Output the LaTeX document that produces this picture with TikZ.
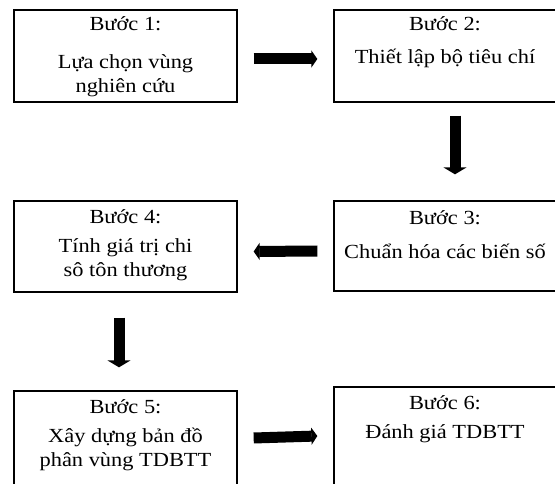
\documentclass[tikz,border=0pt]{standalone}
\usepackage{fontspec}
\setmainfont{Liberation Serif}[FakeStretch=1.12]
\usetikzlibrary{arrows.meta}
\begin{document}
\begin{tikzpicture}[x=1pt,y=-1pt,
  stepbox/.style={draw=black, line width=1.3pt, inner sep=0pt},
  steptext/.style={anchor=north, align=center, inner sep=0pt,
    font=\fontsize{20}{24}\selectfont},
  harrow/.style={line width=11pt, -{Triangle[length=6pt,width=17pt]}},
  varrow/.style={line width=11pt, -{Triangle[length=7pt,width=23pt]}}]
\useasboundingbox (0,0) rectangle (555,484);

% boxes: left column and right column
\node[stepbox, minimum width=223pt, minimum height=92pt]  (b1) at (125.5,56) {};
\node[stepbox, minimum width=246pt, minimum height=92pt]  (b2) at (457,56) {};
\node[stepbox, minimum width=246pt, minimum height=90pt]  (b3) at (457,246) {};
\node[stepbox, minimum width=223pt, minimum height=91pt]  (b4) at (125.5,246.5) {};
\node[stepbox, minimum width=223pt, minimum height=109pt] (b5) at (125.5,445.5) {};
\node[stepbox, minimum width=246pt, minimum height=113pt] (b6) at (457,443.5) {};

% step texts
\node[steptext] (t1) at ([yshift=-7pt]b1.north -| 125.5,0) {Bước 1:\\[14pt]Lựa chọn vùng\\nghiên cứu};
\node[steptext] (t2) at ([yshift=-7pt]b2.north -| 445,0) {Bước 2:\\[9pt]Thiết lập bộ tiêu chí};
\node[steptext] (t3) at ([yshift=-10pt]b3.north -| 445,0) {Bước 3:\\[10pt]Chuẩn hóa các biến số};
\node[steptext] (t4) at ([yshift=-9pt]b4.north -| 125.5,0) {Bước 4:\\[5pt]Tính giá trị chi\\sô tôn thương};
\node[steptext] (t5) at ([yshift=-9pt]b5.north -| 125.5,0) {Bước 5:\\[5pt]Xây dựng bản đồ\\phân vùng TDBTT};
\node[steptext] (t6) at ([yshift=-9pt]b6.north -| 445,0) {Bước 6:\\[5pt]Đánh giá TDBTT};

% block arrows between steps
\draw[harrow] ([xshift=16pt,yshift=-3pt]b1.east) -- ([xshift=-16pt,yshift=-3pt]b2.west);
\draw[varrow] ([xshift=-2pt,yshift=-13pt]b2.south) -- ([xshift=-2pt,yshift=26pt]b3.north);
\draw[harrow] ([xshift=-16pt,yshift=-5pt]b3.west) -- ([xshift=16pt,yshift=-5pt]b4.east);
\draw[varrow] ([xshift=-6.5pt,yshift=-25pt]b4.south) -- ([xshift=-6.5pt,yshift=23pt]b5.north);
\draw[harrow] ([xshift=16pt,yshift=7.5pt]b5.east) -- ([xshift=-16pt,yshift=7.5pt]b6.west);
\end{tikzpicture}
\end{document}
